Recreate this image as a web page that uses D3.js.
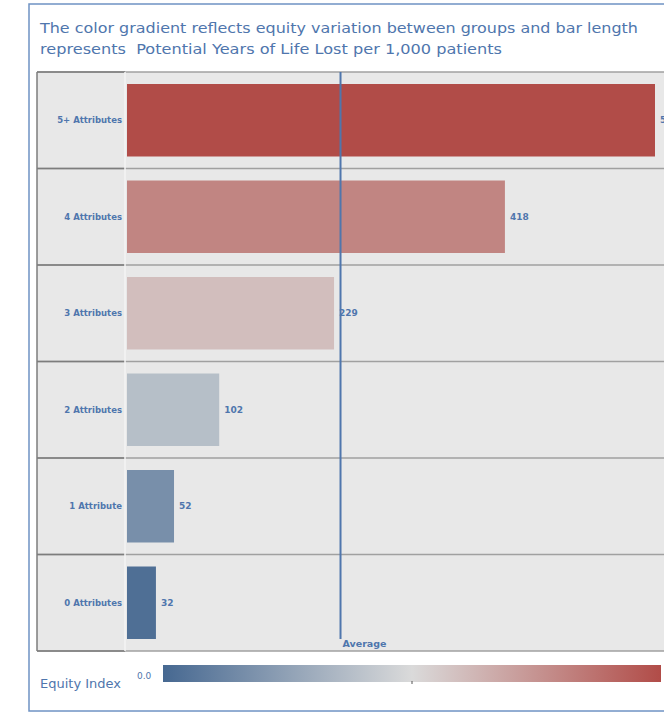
<!DOCTYPE html>
<html>
<head>
<meta charset="utf-8">
<script src="https://cdnjs.cloudflare.com/ajax/libs/d3/7.8.5/d3.min.js"></script>
<style>
  body { margin: 0; background: #fff; }
  text { font-family: "DejaVu Sans", sans-serif; white-space: pre; }
</style>
</head>
<body>
<svg id="chart"></svg>
<script>
'use strict';

const groups = ['5+ Attributes', '4 Attributes', '3 Attributes', '2 Attributes', '1 Attribute', '0 Attributes'];
const ypll = [584, 418, 229, 102, 52, 32];
const equity = [1.0, 0.8, 0.6, 0.38, 0.17, 0.03];
const titleLines = [
    'The color gradient reflects equity variation between groups and bar length',
    'represents  Potential Years of Life Lost per 1,000 patients'
];
const titleWidths = [598, 462];

const W = 664, H = 714;
const textBlue = '#4f76ad';
const svg = d3.select('#chart').attr('width', W).attr('height', H);

// outer frame
svg.append('rect')
    .attr('x', 29).attr('y', 4)
    .attr('width', W).attr('height', 707)
    .attr('fill', '#fff')
    .attr('stroke', '#6f93c4').attr('stroke-width', 1.5);

svg.selectAll('text.title')
    .data(titleLines)
    .join('text')
    .attr('class', 'title')
    .attr('x', 40)
    .attr('y', (d, i) => 33 + i * 21)
    .attr('font-size', 14)
    .attr('fill', textBlue)
    .attr('textLength', (d, i) => titleWidths[i])
    .attr('lengthAdjust', 'spacingAndGlyphs')
    .text(d => d);

// panel
const panel = { left: 37, top: 72, right: W, bottom: 651, labelW: 88 };
const plotLeft = panel.left + panel.labelW;

svg.append('rect')
    .attr('x', panel.left).attr('y', panel.top)
    .attr('width', panel.right - panel.left).attr('height', panel.bottom - panel.top)
    .attr('fill', '#e8e8e8');

const x = d3.scaleLinear()
    .domain([0, 584])
    .range([plotLeft + 2, 655]);

const y = d3.scaleBand()
    .domain(groups)
    .range([panel.top, panel.bottom]);

const color = d3.scaleLinear()
    .domain([0, 0.5, 1])
    .range(['#466891', '#dadada', '#b14c48']);

// row separators
svg.selectAll('line.sep')
    .data(d3.range(groups.length + 1))
    .join('line')
    .attr('class', 'sep')
    .attr('x1', panel.left).attr('x2', panel.right)
    .attr('y1', i => panel.top + i * y.step())
    .attr('y2', i => panel.top + i * y.step())
    .attr('stroke', '#a0a0a0').attr('stroke-width', 1.5);

svg.selectAll('line.sepLab')
    .data(d3.range(groups.length + 1))
    .join('line')
    .attr('class', 'sepLab')
    .attr('x1', panel.left).attr('x2', plotLeft)
    .attr('y1', i => panel.top + i * y.step())
    .attr('y2', i => panel.top + i * y.step())
    .attr('stroke', '#7d7d7d').attr('stroke-width', 1.5);

svg.append('line')
    .attr('x1', panel.left).attr('x2', panel.left)
    .attr('y1', panel.top).attr('y2', panel.bottom)
    .attr('stroke', '#7d7d7d').attr('stroke-width', 1.5);

svg.append('line')
    .attr('x1', plotLeft).attr('x2', plotLeft)
    .attr('y1', panel.top).attr('y2', panel.bottom)
    .attr('stroke', '#f4f4f4').attr('stroke-width', 1.5);

// bars
const rows = groups.map((g, i) => ({ g: g, v: ypll[i], e: equity[i] }));
const barPad = 12;

svg.selectAll('rect.bar')
    .data(rows)
    .join('rect')
    .attr('class', 'bar')
    .attr('x', x(0))
    .attr('y', d => y(d.g) + barPad)
    .attr('width', d => x(d.v) - x(0))
    .attr('height', y.bandwidth() - 2 * barPad)
    .attr('fill', d => color(d.e));

svg.selectAll('text.val')
    .data(rows)
    .join('text')
    .attr('class', 'val')
    .attr('x', d => x(d.v) + 5)
    .attr('y', d => y(d.g) + y.bandwidth() / 2 + 3)
    .attr('font-size', 9)
    .attr('font-weight', 'bold')
    .attr('fill', textBlue)
    .text(d => d.v);

svg.selectAll('text.lab')
    .data(rows)
    .join('text')
    .attr('class', 'lab')
    .attr('x', plotLeft - 3)
    .attr('y', d => y(d.g) + y.bandwidth() / 2 + 3)
    .attr('text-anchor', 'end')
    .attr('font-size', 8.5)
    .attr('font-weight', 'bold')
    .attr('fill', textBlue)
    .text(d => d.g);

// average reference line
const avg = d3.mean(ypll);
svg.append('line')
    .attr('x1', x(avg)).attr('x2', x(avg))
    .attr('y1', panel.top).attr('y2', panel.bottom - 12)
    .attr('stroke', '#4f76ad').attr('stroke-width', 2);

svg.append('text')
    .attr('x', x(avg) + 2)
    .attr('y', panel.bottom - 4)
    .attr('font-size', 9.5)
    .attr('font-weight', 'bold')
    .attr('fill', textBlue)
    .text('Average');

// legend
const lg = { x: 163, y: 665, w: 498, h: 17 };
const grad = svg.append('defs').append('linearGradient')
    .attr('id', 'eqGrad');
grad.selectAll('stop')
    .data(color.domain())
    .join('stop')
    .attr('offset', d => d * 100 + '%')
    .attr('stop-color', d => color(d));

svg.append('rect')
    .attr('x', lg.x).attr('y', lg.y)
    .attr('width', lg.w).attr('height', lg.h)
    .attr('fill', 'url(#eqGrad)');

svg.append('line')
    .attr('x1', lg.x + lg.w * 0.5).attr('x2', lg.x + lg.w * 0.5)
    .attr('y1', lg.y + lg.h - 1).attr('y2', lg.y + lg.h + 2)
    .attr('stroke', '#555');

svg.append('text')
    .attr('x', 40).attr('y', 688)
    .attr('font-size', 13)
    .attr('fill', textBlue)
    .text('Equity Index');

svg.append('text')
    .attr('x', 137).attr('y', 679)
    .attr('font-size', 9)
    .attr('fill', textBlue)
    .text('0.0');
</script>
</body>
</html>
